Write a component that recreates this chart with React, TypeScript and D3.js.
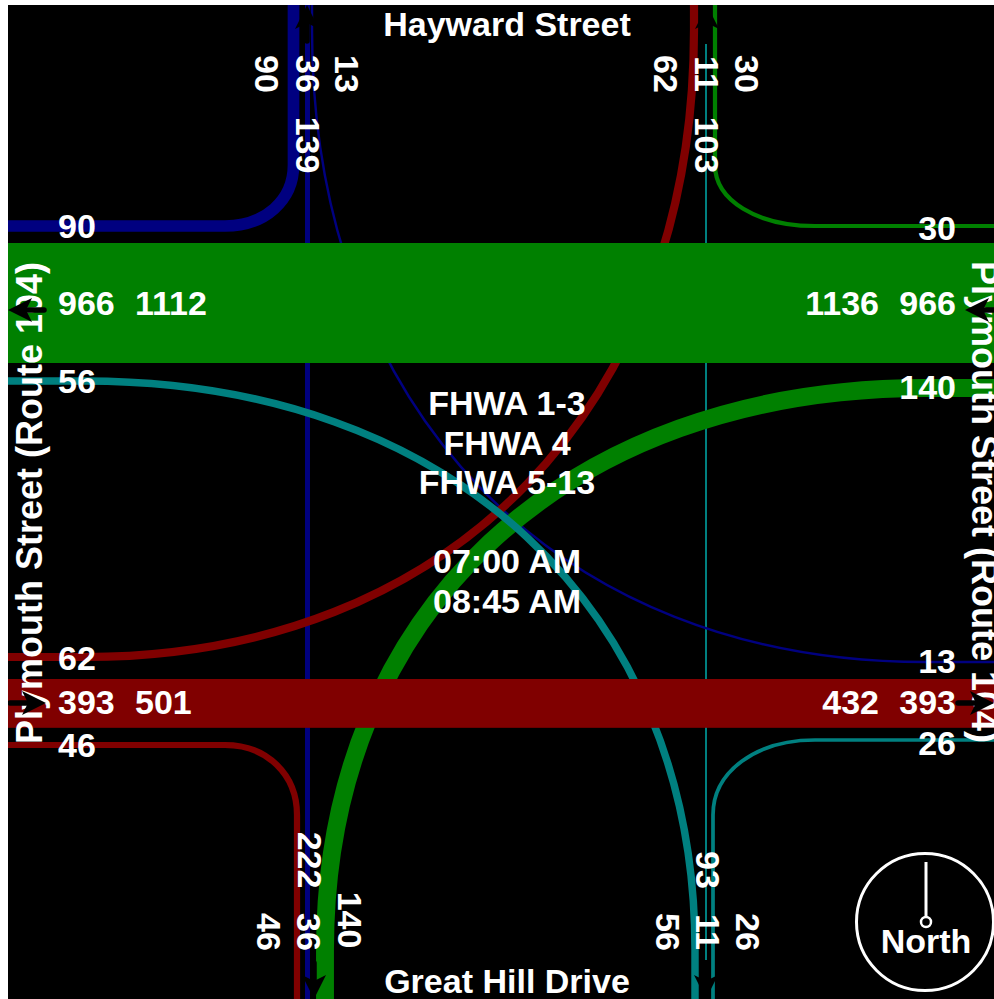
import React from "react";
import * as d3 from "d3";

// ---- data ----
const hourLabels = ["FHWA 1-3", "FHWA 4", "FHWA 5-13"];
const timeLabels = ["07:00 AM", "08:45 AM"];
const northSouthStreets = ["Hayward Street", "Great Hill Drive"];
const eastWestStreet = "Plymouth Street (Route 104)";

// through band volumes
const bandValues = [966, 393];
const bandLabelsWest = [["966", "1112"], ["393", "501"]];
const bandLabelsEast = [["1136", "966"], ["432", "393"]];

// turning and straight movement volumes
const westFlows = [90, 56, 62, 46];
const eastFlows = [30, 140, 13, 26];
const northFlows = [90, 36, 13, 62, 11, 30];
const southFlows = [46, 36, 140, 56, 11, 26];
const northTotals = ["139", "103"];
const southTotals = ["222", "93"];

const NAVY = "#000080";
const MAROON = "#800000";
const GREEN = "#008000";
const TEAL = "#008080";

const W = 986;
const H = 994;
const OX = 8;
const OY = 5;

const px = d3.scaleLinear().domain([8, 994]).range([0, W]);
const py = d3.scaleLinear().domain([5, 999]).range([0, H]);
const bandScale = d3.scaleLinear().domain([0, 966]).range([0, 120]);
const widthScale = (v: number) => Math.max(2.4, bandScale(v) + 0.5);

function turn(x0: number, y0: number, x1: number, y1: number, x2: number, y2: number, x3: number, y3: number, cx: number, cy: number, k: number) {
  // straight, corner-controlled curve, straight
  const p = d3.path();
  p.moveTo(px(x0), py(y0));
  p.lineTo(px(x1), py(y1));
  p.bezierCurveTo(
    px(x1 + (cx - x1) * k), py(y1 + (cy - y1) * k),
    px(x2 + (cx - x2) * k), py(y2 + (cy - y2) * k),
    px(x2), py(y2)
  );
  p.lineTo(px(x3), py(y3));
  return p.toString();
}

const turns = [
  { d: turn(8, 226, 225, 226, 293.5, 165, 293.5, 5, 293.5, 226, 0.58), c: NAVY, v: westFlows[0] },
  { d: turn(994, 662, 925, 662, 312, 30, 312, 5, 312, 662, 0.6), c: NAVY, v: eastFlows[2] },
  { d: turn(8, 657, 85, 657, 694, 30, 694, 5, 694, 657, 0.6), c: MAROON, v: westFlows[2] },
  { d: turn(8, 745, 225, 745, 297, 815, 297, 999, 297, 745, 0.58), c: MAROON, v: westFlows[3] },
  { d: turn(994, 226, 815, 226, 715, 165, 715, 5, 715, 226, 0.58), c: GREEN, v: eastFlows[0] },
  { d: turn(994, 388, 925, 388, 325, 950, 325, 999, 325, 388, 0.6), c: GREEN, v: eastFlows[1] },
  { d: turn(8, 381, 85, 381, 695, 950, 695, 999, 695, 381, 0.6), c: TEAL, v: westFlows[1] },
  { d: turn(994, 740, 815, 740, 713, 815, 713, 999, 713, 740, 0.58), c: TEAL, v: eastFlows[3] },
];

const arrowHead = "M0,0 L24,-12 L18,0 L24,12 Z";

function Arrow({ x, y, rot }: { x: number; y: number; rot: number }) {
  return (
    <g transform={`translate(${px(x)},${py(y)}) rotate(${rot})`}>
      <line x1={10} y1={0} x2={36} y2={0} stroke="#000" strokeWidth={5.5} strokeLinecap="round" />
      <path d={arrowHead} fill="#000" />
    </g>
  );
}

const label = { fill: "#fff", fontFamily: "'Liberation Sans', Arial, sans-serif", fontWeight: 700, fontSize: 34 } as const;

function V({ x, y, t }: { x: number; y: number; t: string }) {
  return (
    <text {...label} textAnchor="middle" dominantBaseline="central" transform={`translate(${px(x + 2)},${py(y)}) rotate(90)`}>{t}</text>
  );
}

export default function App() {
  return (
    <svg width={W} height={H} style={{ position: "absolute", left: OX, top: OY, background: "#000", display: "block" }}>
      <line x1={px(307.5)} x2={px(307.5)} y1={py(5)} y2={py(999)} stroke={NAVY} strokeWidth={widthScale(northFlows[1])} />
      <line x1={px(706)} x2={px(706)} y1={py(44)} y2={py(960)} stroke={TEAL} strokeWidth={2} />

      {turns.map((t, i) => (
        <path key={i} d={t.d} fill="none" stroke={t.c} strokeWidth={widthScale(t.v)} />
      ))}

      <rect x={px(8)} y={py(243)} width={W} height={bandScale(bandValues[0])} fill={GREEN} />
      <rect x={px(8)} y={py(679)} width={W} height={bandScale(bandValues[1])} fill={MAROON} />

      <text {...label} x={px(507)} y={py(24)} textAnchor="middle" dominantBaseline="central">{northSouthStreets[0]}</text>
      <text {...label} x={px(507)} y={py(981)} textAnchor="middle" dominantBaseline="central">{northSouthStreets[1]}</text>

      <text {...label} fontSize={36} textAnchor="middle" dominantBaseline="central" transform={`translate(${px(29)},${py(503)}) rotate(-90)`}>{eastWestStreet}</text>
      <text {...label} fontSize={36} textAnchor="middle" dominantBaseline="central" transform={`translate(${px(984)},${py(502)}) rotate(90)`}>{eastWestStreet}</text>

      {hourLabels.map((t, i) => (
        <text key={t} {...label} x={px(507)} y={py(403 + i * 39.5)} textAnchor="middle" dominantBaseline="central">{t}</text>
      ))}
      {timeLabels.map((t, i) => (
        <text key={t} {...label} x={px(507)} y={py(561 + i * 39.5)} textAnchor="middle" dominantBaseline="central">{t}</text>
      ))}

      <text {...label} x={px(58)} y={py(226)} dominantBaseline="central">{westFlows[0]}</text>
      <text {...label} x={px(58)} y={py(303)} dominantBaseline="central">{bandLabelsWest[0][0]}</text>
      <text {...label} x={px(135)} y={py(303)} dominantBaseline="central">{bandLabelsWest[0][1]}</text>
      <text {...label} x={px(58)} y={py(381)} dominantBaseline="central">{westFlows[1]}</text>
      <text {...label} x={px(58)} y={py(658)} dominantBaseline="central">{westFlows[2]}</text>
      <text {...label} x={px(58)} y={py(702)} dominantBaseline="central">{bandLabelsWest[1][0]}</text>
      <text {...label} x={px(135)} y={py(702)} dominantBaseline="central">{bandLabelsWest[1][1]}</text>
      <text {...label} x={px(58)} y={py(745)} dominantBaseline="central">{westFlows[3]}</text>

      <text {...label} x={px(956)} y={py(228)} textAnchor="end" dominantBaseline="central">{eastFlows[0]}</text>
      <text {...label} x={px(956)} y={py(303)} textAnchor="end" dominantBaseline="central">{bandLabelsEast[0][1]}</text>
      <text {...label} x={px(879)} y={py(303)} textAnchor="end" dominantBaseline="central">{bandLabelsEast[0][0]}</text>
      <text {...label} x={px(956)} y={py(387)} textAnchor="end" dominantBaseline="central">{eastFlows[1]}</text>
      <text {...label} x={px(956)} y={py(661)} textAnchor="end" dominantBaseline="central">{eastFlows[2]}</text>
      <text {...label} x={px(956)} y={py(702)} textAnchor="end" dominantBaseline="central">{bandLabelsEast[1][1]}</text>
      <text {...label} x={px(879)} y={py(702)} textAnchor="end" dominantBaseline="central">{bandLabelsEast[1][0]}</text>
      <text {...label} x={px(956)} y={py(743)} textAnchor="end" dominantBaseline="central">{eastFlows[3]}</text>

      <V x={265} y={74} t={String(northFlows[0])} />
      <V x={306} y={74} t={String(northFlows[1])} />
      <V x={345} y={74} t={String(northFlows[2])} />
      <V x={306} y={145} t={northTotals[0]} />
      <V x={664} y={74} t={String(northFlows[3])} />
      <V x={705} y={74} t={String(northFlows[4])} />
      <V x={745} y={74} t={String(northFlows[5])} />
      <V x={705} y={145} t={northTotals[1]} />

      <V x={267} y={932} t={String(southFlows[0])} />
      <V x={307} y={932} t={String(southFlows[1])} />
      <V x={348} y={920} t={String(southFlows[2])} />
      <V x={308} y={860} t={southTotals[0]} />
      <V x={666} y={932} t={String(southFlows[3])} />
      <V x={706} y={932} t={String(southFlows[4])} />
      <V x={746} y={932} t={String(southFlows[5])} />
      <V x={706} y={870} t={southTotals[1]} />

      <Arrow x={8} y={310} rot={0} />
      <Arrow x={46} y={703} rot={180} />
      <Arrow x={965} y={310} rot={0} />
      <Arrow x={994} y={703} rot={180} />
      <Arrow x={307} y={5} rot={90} />
      <Arrow x={707} y={5} rot={90} />
      <Arrow x={314} y={999} rot={-90} />
      <Arrow x={706} y={999} rot={-90} />

      <circle cx={px(925)} cy={py(922)} r={68.5} fill="none" stroke="#fff" strokeWidth={3} />
      <line x1={px(926)} x2={px(926)} y1={py(862)} y2={py(917)} stroke="#fff" strokeWidth={3} />
      <circle cx={px(926)} cy={py(922)} r={5} fill="none" stroke="#fff" strokeWidth={2.5} />
      <text {...label} x={px(926)} y={py(941)} textAnchor="middle" dominantBaseline="central">North</text>
    </svg>
  );
}
